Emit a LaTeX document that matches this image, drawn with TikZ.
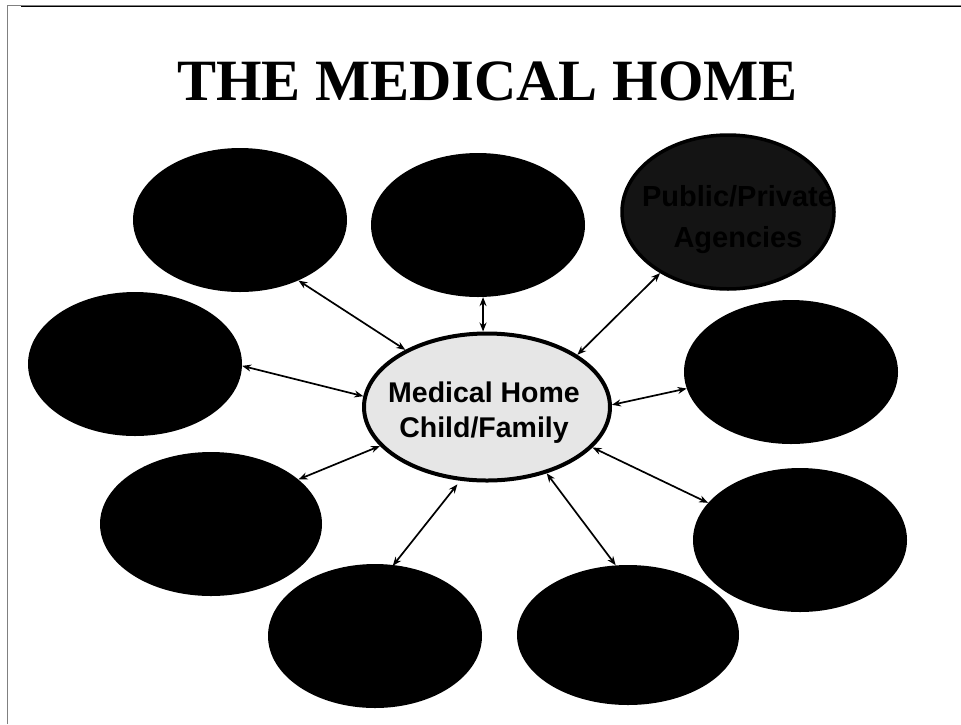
\documentclass[tikz,border=0pt]{standalone}
\usepackage{fontspec}
\setmainfont{Liberation Serif}
\setsansfont{Liberation Sans}
\usetikzlibrary{arrows.meta, shapes.geometric}
\definecolor{hubGrey}{HTML}{E6E6E6}
\definecolor{agencyDark}{HTML}{141414}
\definecolor{frameGrey}{HTML}{808080}

\begin{document}
\begin{tikzpicture}[x=1pt, y=-1pt,
  partner/.style={ellipse, fill=black, inner sep=0pt,
    minimum width=214pt, minimum height=144pt},
  hub/.style={ellipse, draw=black, line width=4pt, fill=hubGrey, inner sep=0pt,
    minimum width=246pt, minimum height=147pt},
  hubtext/.style={align=center, inner sep=0pt,
    font=\sffamily\bfseries\fontsize{28.5}{35}\selectfont},
  agency/.style={ellipse, draw=black, line width=3.5pt, fill=agencyDark, inner sep=0pt,
    minimum width=212pt, minimum height=154pt},
  agencytext/.style={align=center, inner sep=0pt, text=black,
    font=\sffamily\bfseries\fontsize{29}{41}\selectfont},
  arr/.style={{Stealth[length=9pt, width=7pt]}-{Stealth[length=9pt, width=7pt]},
    black, line width=1.7pt}]
\useasboundingbox (0,0) rectangle (961,724);

% frame lines
\draw[frameGrey, line width=1pt] (7,724) -- (7,5.5) -- (961,5.5);
\draw[black, line width=1.3pt] (21,6.2) -- (961,6.2);

% title
\node[anchor=base, font=\bfseries\fontsize{58.5}{60}\selectfont] (title)
  at (487.5,100) {THE MEDICAL HOME};

% centre
\node[hub] (hub) at (487,407) {};
\node[hubtext] (hubtxt) at (484,413) {Medical Home\\Child/Family};

% partners
\node[partner] (tl) at (240,220) {};
\node[partner] (tm) at (478,225) {};
\node[agency] (tr) at (728,212) {};
\node[agencytext] (trtxt) at (738,220) {Public/Private\\Agencies};
\node[partner] (lf) at (135,364) {};
\node[partner] (rt) at (791,372) {};
\node[partner, minimum width=222pt] (ll) at (211,524) {};
\node[partner] (lr) at (800,540) {};
\node[partner] (bl) at (375,636) {};
\node[partner, minimum width=222pt, minimum height=140pt] (br) at (628,635) {};

% links
\draw[arr] (tl.-46) -- (hub.145);
\draw[arr] (tm.-86) -- (hub.93);
\draw[arr] (tr.-138) -- (hub.30);
\draw[arr] (lf.-1) -- (hub.175);
\draw[arr] (rt.189) -- (hub.1);
\draw[arr] (ll.27) -- (hub.200);
\draw[arr] (lr.158) -- (hub.-21);
\draw[arr] ([yshift=-1pt]bl.76) -- ([yshift=-4pt]hub.248);
\draw[arr] (br.100) -- (hub.-48);
\end{tikzpicture}
\end{document}
